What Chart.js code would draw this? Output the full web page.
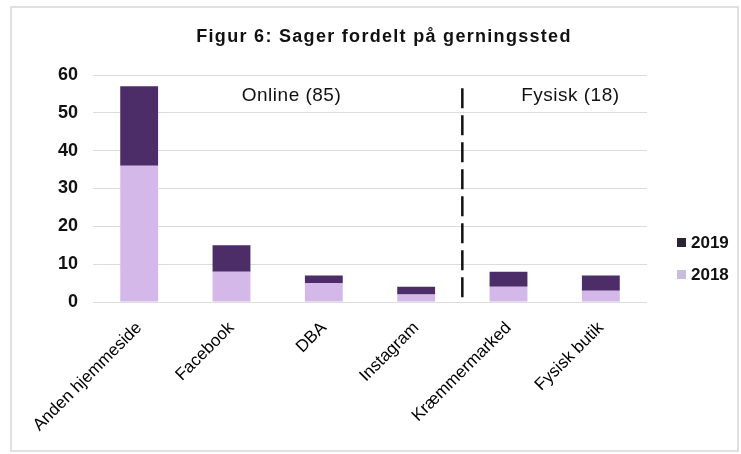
<!DOCTYPE html>
<html>
<head>
<meta charset="utf-8">
<script src="https://cdn.jsdelivr.net/npm/chart.js@4.4.1/dist/chart.umd.min.js"></script>
<style>
  html, body { margin: 0; padding: 0; background: #fff; }
  #wrap { width: 741px; height: 454px; }
</style>
</head>
<body>
<div id="wrap"><canvas id="chart" width="741" height="454"></canvas></div>
<script>
const categories = ['Anden hjemmeside', 'Facebook', 'DBA', 'Instagram', 'Kræmmermarked', 'Fysisk butik'];
const values2018 = [36, 8, 5, 2, 4, 3];
const values2019 = [21, 7, 2, 2, 4, 4];
const groupLabels = ['Online (85)', 'Fysisk (18)'];
const titleText = 'Figur 6: Sager fordelt på gerningssted';

const fontFam = "'Liberation Sans', Arial, sans-serif";
Chart.defaults.font.family = fontFam;
Chart.defaults.color = '#111';

// ekstra tegning: ramme, titel, gruppe-tekster, stiplet linje og legend
const extras = {
    id: 'extras',
    afterDraw(chart) {
        const ctx = chart.ctx;
        const x = chart.scales.x;
        const y = chart.scales.y;
        ctx.save();

        ctx.strokeStyle = '#d6d6d6';
        ctx.lineWidth = 1.5;
        ctx.strokeRect(11, 7, 727, 444);

        ctx.fillStyle = '#111';
        ctx.textAlign = 'center';
        ctx.textBaseline = 'middle';
        ctx.font = 'bold 18px ' + fontFam;
        ctx.letterSpacing = '1.3px';
        ctx.fillText(titleText, 384, 37);

        ctx.font = '19px ' + fontFam;
        ctx.letterSpacing = '0.5px';
        ctx.fillText(groupLabels[0], x.getPixelForValue(1.65), y.getPixelForValue(54.5));
        ctx.fillText(groupLabels[1], x.getPixelForValue(4.67), y.getPixelForValue(54.5));

        ctx.strokeStyle = '#111';
        ctx.lineWidth = 2.5;
        ctx.setLineDash([20, 7]);
        ctx.beginPath();
        ctx.moveTo(x.getPixelForValue(3.5), y.getPixelForValue(56.5));
        ctx.lineTo(x.getPixelForValue(3.5), y.getPixelForValue(0));
        ctx.stroke();
        ctx.setLineDash([]);

        // legend
        const items = [
            { label: '2019', color: '#2b2233', y: 243 },
            { label: '2018', color: '#c9bddb', y: 275 }
        ];
        ctx.textAlign = 'left';
        ctx.font = 'bold 17px ' + fontFam;
        ctx.letterSpacing = '0px';
        items.forEach(it => {
            ctx.fillStyle = it.color;
            ctx.fillRect(677, it.y - 5, 9, 9);
            ctx.fillStyle = '#111';
            ctx.fillText(it.label, 691, it.y);
        });
        ctx.restore();
    }
};

new Chart(document.getElementById('chart'), {
    type: 'bar',
    data: {
        labels: categories,
        datasets: [
            {
                label: '2018',
                data: values2018,
                backgroundColor: '#d5b8ea',
                barPercentage: 0.41,
                categoryPercentage: 1
            },
            {
                label: '2019',
                data: values2019,
                backgroundColor: '#4c2d67',
                barPercentage: 0.41,
                categoryPercentage: 1
            }
        ]
    },
    options: {
        responsive: false,
        animation: false,
        layout: { padding: { top: 75, right: 94, bottom: 0, left: 0 } },
        plugins: {
            legend: { display: false },
            title: { display: false },
            tooltip: { enabled: false }
        },
        scales: {
            x: {
                stacked: true,
                grid: { display: false, drawTicks: false },
                border: { display: false },
                ticks: {
                    minRotation: 45,
                    maxRotation: 45,
                    padding: 16,
                    font: { size: 17 },
                    color: '#000'
                },
                afterFit(axis) { axis.height = 152; }
            },
            y: {
                stacked: true,
                min: 0,
                max: 60,
                grid: { color: '#dcdcdc', lineWidth: 1, drawTicks: false },
                border: { display: false },
                ticks: {
                    stepSize: 10,
                    padding: 15,
                    font: { size: 18, weight: 'bold' },
                    color: '#111'
                },
                afterFit(axis) { axis.width = 93; }
            }
        }
    },
    plugins: [extras]
});
</script>
</body>
</html>
